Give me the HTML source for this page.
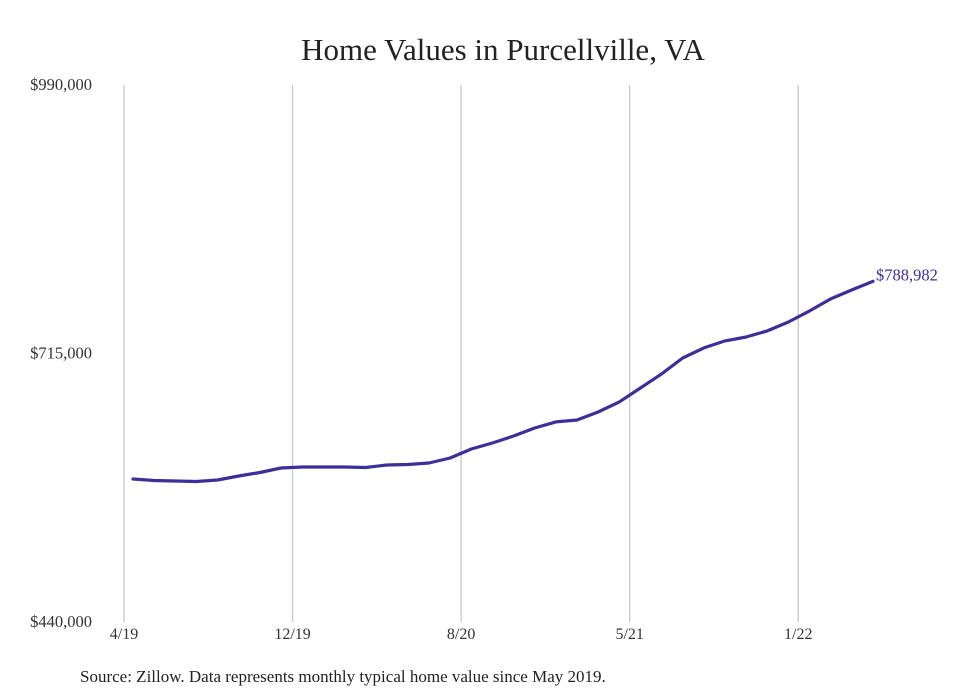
<!DOCTYPE html>
<html><head><meta charset="utf-8"><style>
html,body{margin:0;padding:0;background:#fff;}
svg{display:block;font-family:"Liberation Serif",serif;}
</style></head><body>
<svg id="chart" width="980" height="699">
<text x="503" y="60" text-anchor="middle" font-size="31" fill="#222">Home Values in Purcellville, VA</text>
<g id="grid"></g>
<g id="yaxis"></g>
<g id="xaxis"></g>
<g id="series"></g>
<text x="80" y="682" font-size="17" fill="#222">Source: Zillow. Data represents monthly typical home value since May 2019.</text>
</svg>
<script>
const xTickLabels = ["4/19","12/19","8/20","5/21","1/22"];
const xTickPos = [0,8,16,24,32];
const yTickValues = [440000,715000,990000];
const yTickLabels = ["$440,000","$715,000","$990,000"];
const values = [586500,584900,584400,583900,585400,589500,593100,597700,598800,598800,598800,598200,600800,601300,602900,608000,617200,623300,630500,638700,644900,646900,655100,665400,679700,694100,710400,720700,727900,731900,738100,747300,758600,770900,780100,788982];
const endLabel = "$788,982";

const NS="http://www.w3.org/2000/svg";
const yMin=440000,yMax=990000,yTop=85,yBot=622;
function yS(v){return yBot-(v-yMin)/(yMax-yMin)*(yBot-yTop);}
function xTick(m){return 124+m*21.07;}
function xS(i){return 133+i*(740/(values.length-1));}
function mk(tag,attrs,parent){const e=document.createElementNS(NS,tag);for(const k in attrs)e.setAttribute(k,attrs[k]);parent.appendChild(e);return e;}
const grid=document.getElementById('grid'),ya=document.getElementById('yaxis'),xa=document.getElementById('xaxis'),se=document.getElementById('series');
xTickPos.forEach((m,i)=>{
  const l=mk('line',{x1:xTick(m),x2:xTick(m),y1:yTop,y2:yBot,stroke:'#c8c8c8','stroke-width':1.3},grid);
  
  
  const t=mk('text',{x:xTick(m),y:yBot+17,'text-anchor':'middle','font-size':16,fill:'#333'},xa);
  t.textContent=xTickLabels[i];
  
  
});
yTickValues.forEach((v,i)=>{
  const t=mk('text',{x:92,y:yS(v)+5,'text-anchor':'end','font-size':16.5,fill:'#333'},ya);
  t.textContent=yTickLabels[i];
  
  
});
const d=values.map((v,i)=>(i?'L':'M')+xS(i).toFixed(1)+','+yS(v).toFixed(1)).join(' ');
const p=mk('path',{d:d,fill:'none',stroke:'#3d2f99','stroke-width':3.2,'stroke-linejoin':'round','stroke-linecap':'round'},se);


const last=values.length-1;
const lt=mk('text',{x:xS(last)+3,y:yS(values[last])-1,'font-size':16.5,fill:'#3d2f99'},se);
lt.textContent=endLabel;


</script>
</body></html>
